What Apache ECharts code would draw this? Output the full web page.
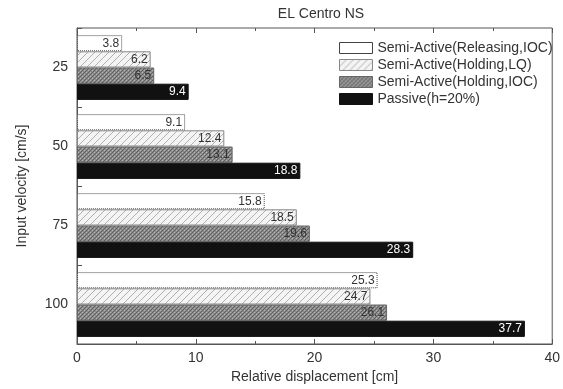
<!DOCTYPE html>
<html><head><meta charset="utf-8">
<script src="https://cdn.jsdelivr.net/npm/echarts@6/dist/echarts.min.js"></script>
<style>html,body{margin:0;padding:0;background:#fff}#c{width:563px;height:389px}</style>
</head><body><div id="c"></div>
<script>
var categories = ['25', '50', '75', '100'];
var seriesNames = ['Semi-Active(Releasing,IOC)', 'Semi-Active(Holding,LQ)', 'Semi-Active(Holding,IOC)', 'Passive(h=20%)'];
var releasingIOC = [3.8, 9.1, 15.8, 25.3];
var holdingLQ = [6.2, 12.4, 18.5, 24.7];
var holdingIOC = [6.5, 13.1, 19.6, 26.1];
var passive = [9.4, 18.8, 28.3, 37.7];
var xTicks = [0, 10, 20, 30, 40];

function hatch() {
  var c = document.createElement('canvas'); c.width = 7; c.height = 7;
  var g = c.getContext('2d');
  g.fillStyle = '#f4f4f4'; g.fillRect(0, 0, 7, 7);
  g.strokeStyle = '#b0b0b0'; g.lineWidth = 1;
  g.beginPath(); g.moveTo(-1, 8); g.lineTo(8, -1); g.stroke();
  return { image: c, repeat: 'repeat' };
}
function cross() {
  var c = document.createElement('canvas'); c.width = 4; c.height = 4;
  var g = c.getContext('2d');
  g.fillStyle = '#8c8c8c'; g.fillRect(0, 0, 4, 4);
  g.fillStyle = '#5e5e5e'; g.fillRect(0, 0, 1, 1); g.fillRect(2, 2, 1, 1); g.fillRect(1, 3, 1, 1); g.fillRect(3, 1, 1, 1);
  g.fillStyle = '#b4b4b4'; g.fillRect(2, 0, 1, 1); g.fillRect(0, 2, 1, 1);
  return { image: c, repeat: 'repeat' };
}

var font = 'Liberation Sans, Arial, sans-serif';
var chart = echarts.init(document.getElementById('c'));
function mk(name, data, color, border, btype, lblColor) {
  return {
    name: name, type: 'bar', data: data, barGap: '0%', barCategoryGap: '18%',
    itemStyle: { color: color, borderColor: border, borderWidth: 1, borderType: btype },
    label: { show: true, position: 'insideRight', distance: 3, color: lblColor, fontSize: 12, fontFamily: font,
      formatter: function (p) { return p.value.toFixed(1); } }
  };
}
chart.setOption({
  animation: false,
  title: { text: 'EL Centro NS', left: 316, top: 2, textAlign: 'center',
    textStyle: { fontSize: 14, fontWeight: 'normal', color: '#333', fontFamily: font } },
  legend: { orient: 'vertical', left: 334, top: 36, itemWidth: 33, itemHeight: 11, itemGap: 3, icon: 'rect',
    itemStyle: { borderWidth: 1 },
    textStyle: { fontSize: 14, color: '#333', fontFamily: font } },
  grid: { left: 77, right: 6, top: 28, bottom: 44, show: true, borderColor: '#555', borderWidth: 1 },
  xAxis: [{
    type: 'value', min: xTicks[0], max: xTicks[xTicks.length - 1], interval: 10,
    name: 'Relative displacement [cm]', nameLocation: 'middle', nameGap: 26,
    nameTextStyle: { fontSize: 14, color: '#333', fontFamily: font },
    axisLine: { show: true, lineStyle: { color: '#555' } },
    axisTick: { show: true, inside: true, length: 5, lineStyle: { color: '#555' } },
    minorTick: { show: true, splitNumber: 2, length: 3, lineStyle: { color: '#555' } },
    splitLine: { show: false },
    axisLabel: { fontSize: 14, color: '#333', fontFamily: font, margin: 7 }
  }, {
    type: 'value', position: 'top', min: 0, max: 40, interval: 10,
    axisLine: { show: false }, axisLabel: { show: false }, splitLine: { show: false },
    axisTick: { show: true, inside: true, length: 5, lineStyle: { color: '#555' } },
    minorTick: { show: true, splitNumber: 2, length: 3, lineStyle: { color: '#555' } }
  }],
  yAxis: {
    type: 'category', data: categories, inverse: true,
    name: 'Input velocity [cm/s]', nameLocation: 'middle', nameGap: 48, nameRotate: 90,
    nameTextStyle: { fontSize: 14, color: '#333', fontFamily: font },
    axisLine: { show: true, lineStyle: { color: '#555' } },
    axisTick: { show: true, inside: true, length: 5, lineStyle: { color: '#555' } },
    axisLabel: { fontSize: 14, color: '#333', fontFamily: font, margin: 9 }
  },
  series: [
    mk(seriesNames[0], releasingIOC, '#ffffff', '#444', 'dotted', '#333'),
    mk(seriesNames[1], holdingLQ, hatch(), '#888', 'solid', '#333'),
    mk(seriesNames[2], holdingIOC, cross(), '#666', 'solid', '#333'),
    mk(seriesNames[3], passive, '#111111', '#111', 'solid', '#ffffff')
  ]
});
</script></body></html>
